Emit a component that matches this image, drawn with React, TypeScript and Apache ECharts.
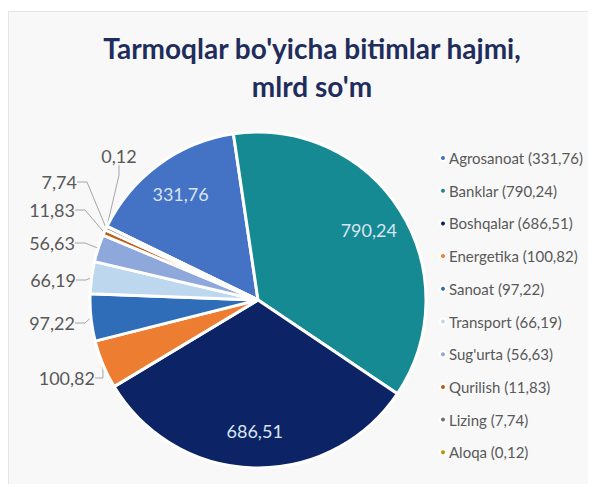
import React, { useEffect, useRef } from "react";
import * as echarts from "echarts";

const categories = ["Agrosanoat", "Banklar", "Boshqalar", "Energetika", "Sanoat", "Transport", "Sug'urta", "Qurilish", "Lizing", "Aloqa"];
const values = [331.76, 790.24, 686.51, 100.82, 97.22, 66.19, 56.63, 11.83, 7.74, 0.12];
const colors = ["#4472C4", "#168A92", "#0C2466", "#ED7D31", "#2F6DB8", "#BDD7EE", "#8FA8DC", "#C55A11", "#6F6F6F", "#BF9000"];
const titleLines = ["Tarmoqlar bo'yicha bitimlar hajmi,", "mlrd so'm"];

// Manual placement of the outside data labels (as in the source chart), chart-pixel coords.
const outsideLabelPlacement: Record<string, { x: number; y: number; align: string }> = {
  Aloqa: { x: 110, y: 144, align: "center" },
  Lizing: { x: 68, y: 170, align: "right" },
  Qurilish: { x: 66, y: 198, align: "right" },
  "Sug'urta": { x: 66, y: 231, align: "right" },
  Transport: { x: 67, y: 268, align: "right" },
  Sanoat: { x: 66, y: 311, align: "right" },
  Energetika: { x: 86, y: 366, align: "right" },
};

const fmt = (v: number) => v.toFixed(2).replace(".", ",");
const FONT = "Lato, 'Open Sans', sans-serif";

export default function App() {
  const ref = useRef<HTMLDivElement>(null);
  useEffect(() => {
    if (!ref.current) return;
    const chart = echarts.init(ref.current, undefined, { renderer: "svg" });
    const total = values.reduce((a, b) => a + b, 0);
    const isInside = (v: number) => v / total > 0.1;
    const center = [249, 288];
    const R = 168;
    const startAngle = 154;
    chart.setOption({
      animation: false,
      backgroundColor: "transparent",
      title: {
        text: titleLines.join("\n"),
        left: 298,
        top: 12,
        textAlign: "center",
        textStyle: { fontFamily: FONT, fontSize: 28, fontWeight: "bold", color: "#1F2D5C", lineHeight: 38 },
      },
      legend: {
        orient: "vertical",
        left: 425,
        top: 133,
        icon: "circle",
        itemWidth: 6,
        itemHeight: 6,
        itemGap: 16.7,
        data: categories,
        formatter: (name: string) => `${name} (${fmt(values[categories.indexOf(name)])})`,
        textStyle: { fontFamily: FONT, fontSize: 15, color: "#595959", lineHeight: 16, padding: [0, 0, 0, -2] },
      },
      series: [
        {
          type: "pie",
          center,
          radius: [0, R],
          startAngle,
          clockwise: true,
          avoidLabelOverlap: false,
          itemStyle: { borderColor: "#ffffff", borderWidth: 3 },
          label: {
            show: true,
            position: "outside",
            fontFamily: FONT,
            fontSize: 18,
            color: "#595959",
            formatter: (p: any) => fmt(p.value),
          },
          labelLine: { show: true, length: 8, length2: 10, lineStyle: { color: "#A6A6A6", width: 1 } },
          labelLayout: (params: any) => {
            const p = outsideLabelPlacement[categories[params.dataIndex]];
            if (!p) return {};
            return { x: p.x, y: p.y, align: p.align, verticalAlign: "middle" };
          },
          data: categories.map((name, i) => ({
            name,
            value: values[i],
            itemStyle: { color: colors[i] },
            label: { show: !isInside(values[i]) },
            labelLine: { show: !isInside(values[i]) },
          })),
        },
        {
          type: "pie",
          center,
          radius: [88, R],
          startAngle,
          clockwise: true,
          silent: true,
          itemStyle: { color: "rgba(0,0,0,0)", borderWidth: 0 },
          label: {
            show: true,
            position: "inside",
            fontFamily: FONT,
            fontSize: 18,
            color: "#D9E4F2",
            formatter: (p: any) => fmt(p.value),
          },
          labelLine: { show: false },
          data: categories.map((name, i) => ({
            name,
            value: values[i],
            label: { show: isInside(values[i]) },
          })),
        },
      ],
    });
    return () => chart.dispose();
  }, []);
  return (
    <div style={{ position: "relative", top: 3, width: 588, height: 476, background: "#F8F8F8", borderTop: "1px solid #E6E6E6", borderLeft: "1px solid #E6E6E6", boxSizing: "border-box" }}>
      <div ref={ref} style={{ width: 587, height: 475 }} />
    </div>
  );
}
